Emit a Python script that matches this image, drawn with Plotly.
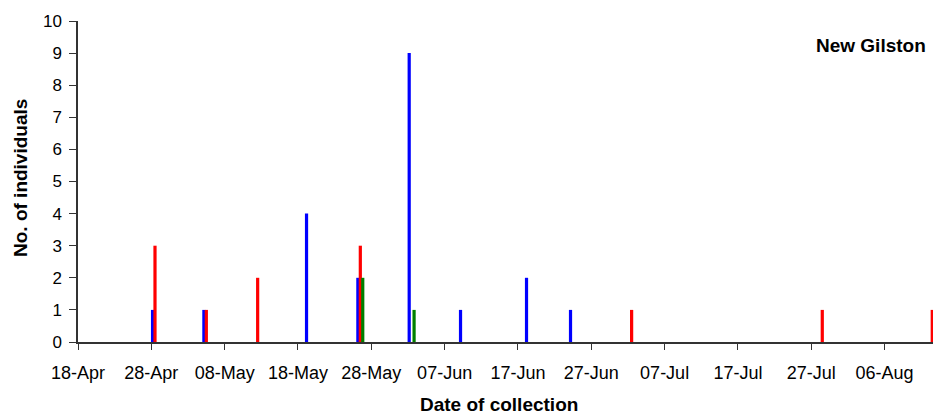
import plotly.graph_objects as go

# ---- data ----
blue_dates = ["2008-04-28", "2008-05-05", "2008-05-19", "2008-05-26",
              "2008-06-02", "2008-06-09", "2008-06-18", "2008-06-24"]
blue_values = [1, 1, 4, 2, 9, 1, 2, 1]

red_dates = ["2008-04-28", "2008-05-05", "2008-05-12", "2008-05-26",
             "2008-07-02", "2008-07-28", "2008-08-12"]
red_values = [3, 1, 2, 3, 1, 1, 1]

green_dates = ["2008-05-26", "2008-06-02"]
green_values = [2, 1]

site_label = "New Gilston"
x_title = "Date of collection"
y_title = "No. of individuals"

# ---- styling ----
HOUR = 3600 * 1000
DAY = 24 * HOUR
BAR_W = 10.5 * HOUR
FONT = "Arial, 'Liberation Sans', sans-serif"

L, R, T, B = 78, 0, 21, 77
W, H = 933, 419
plot_w = W - L - R
plot_h = H - T - B

fig = go.Figure()
for dates, vals, color, off in [
    (blue_dates, blue_values, "#0000FF", -1.25 * HOUR),
    (red_dates, red_values, "#FF0000", 6.75 * HOUR),
    (green_dates, green_values, "#008000", 14.75 * HOUR),
]:
    fig.add_trace(go.Bar(x=dates, y=vals, width=BAR_W, offset=off,
                         marker=dict(color=color, line=dict(width=0)),
                         showlegend=False, cliponaxis=False))

fig.update_layout(
    width=W, height=H,
    margin=dict(l=L, r=R, t=T, b=B, pad=0, autoexpand=False),
    plot_bgcolor="white", paper_bgcolor="white",
    barmode="overlay",
    font=dict(family=FONT, size=17, color="black"),
)

fig.update_xaxes(
    type="date",
    range=["2008-04-18", "2008-08-12 14:24"],
    tick0="2008-04-18", dtick=10 * DAY,
    tickformat="%d-%b",
    ticks="outside", ticklen=6, tickwidth=1.3, tickcolor="#333",
    showline=True, linecolor="#333", linewidth=1.5,
    showgrid=False, zeroline=False,
    ticklabelstandoff=8,
    tickfont=dict(size=18),
)
fig.update_yaxes(
    range=[0, 10], dtick=1,
    ticks="outside", ticklen=7, tickwidth=1.3, tickcolor="#333",
    showline=True, linecolor="#333", linewidth=1.5,
    showgrid=False, zeroline=False,
    ticklabelstandoff=4,
    tickfont=dict(size=17),
)

def px_to_paper(px, py):
    return (px - L) / plot_w, (H - B - py) / plot_h

ax, ay = px_to_paper(20, 178)
fig.add_annotation(text="<b>%s</b>" % y_title, x=ax, y=ay, xref="paper", yref="paper",
                   textangle=-90, showarrow=False, xanchor="center", yanchor="middle",
                   font=dict(size=19))
bx, by = px_to_paper(499, 405)
fig.add_annotation(text="<b>%s</b>" % x_title, x=bx, y=by, xref="paper", yref="paper",
                   showarrow=False, xanchor="center", yanchor="middle",
                   font=dict(size=19))
cx, cy = px_to_paper(871, 45)
fig.add_annotation(text="<b>%s</b>" % site_label, x=cx, y=cy, xref="paper", yref="paper",
                   showarrow=False, xanchor="center", yanchor="middle",
                   font=dict(size=19))

fig.write_html(
    "out.html",
    config={"displayModeBar": False},
    post_script="document.body.style.margin='0';document.body.style.padding='0';",
)
